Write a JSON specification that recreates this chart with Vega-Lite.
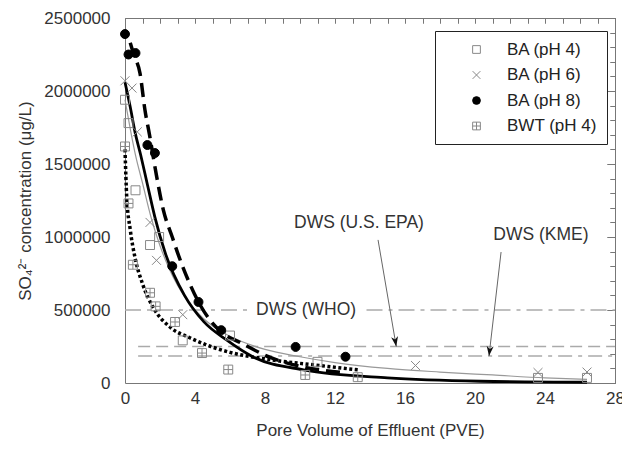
{
  "$schema": "https://vega.github.io/schema/vega-lite/v6.json",
  "width": 490,
  "height": 365,
  "autosize": "none",
  "padding": {"left": 125, "top": 18, "right": 7, "bottom": 67},
  "background": "white",
  "config": {
    "view": {"stroke": "#777", "strokeWidth": 1},
    "font": "Liberation Sans",
    "axis": {"grid": false, "domain": false, "labelFont": "Liberation Sans", "labelFontSize": 17, "labelColor": "#333", "titleFont": "Liberation Sans", "titleFontSize": 17, "titleFontWeight": "normal", "titleColor": "#333", "tickColor": "#777", "tickWidth": 1}
  },
  "datasets": {
    "pts": [
      {"series": "BA (pH 4)", "pve": 0, "conc": 1940000},
      {"series": "BA (pH 4)", "pve": 0.2, "conc": 1780000},
      {"series": "BA (pH 4)", "pve": 0.6, "conc": 1320000},
      {"series": "BA (pH 4)", "pve": 1.43, "conc": 945000},
      {"series": "BA (pH 4)", "pve": 1.95, "conc": 1000000},
      {"series": "BA (pH 4)", "pve": 3.3, "conc": 292000},
      {"series": "BA (pH 4)", "pve": 6.0, "conc": 325000},
      {"series": "BA (pH 4)", "pve": 11.0, "conc": 145000},
      {"series": "BA (pH 4)", "pve": 23.6, "conc": 35000},
      {"series": "BA (pH 4)", "pve": 26.4, "conc": 35000},
      {"series": "BA (pH 6)", "pve": 0, "conc": 2070000},
      {"series": "BA (pH 6)", "pve": 0.4, "conc": 2020000},
      {"series": "BA (pH 6)", "pve": 0.7, "conc": 1720000},
      {"series": "BA (pH 6)", "pve": 1.43, "conc": 1100000},
      {"series": "BA (pH 6)", "pve": 1.8, "conc": 840000},
      {"series": "BA (pH 6)", "pve": 3.3, "conc": 468000},
      {"series": "BA (pH 6)", "pve": 16.6, "conc": 120000},
      {"series": "BA (pH 6)", "pve": 23.6, "conc": 72000},
      {"series": "BA (pH 6)", "pve": 26.4, "conc": 75000},
      {"series": "BA (pH 8)", "pve": 0, "conc": 2390000},
      {"series": "BA (pH 8)", "pve": 0.2, "conc": 2250000},
      {"series": "BA (pH 8)", "pve": 0.6, "conc": 2260000},
      {"series": "BA (pH 8)", "pve": 1.28, "conc": 1630000},
      {"series": "BA (pH 8)", "pve": 1.71, "conc": 1575000},
      {"series": "BA (pH 8)", "pve": 2.7, "conc": 800000},
      {"series": "BA (pH 8)", "pve": 4.2, "conc": 555000},
      {"series": "BA (pH 8)", "pve": 5.5, "conc": 362000},
      {"series": "BA (pH 8)", "pve": 9.75, "conc": 247000},
      {"series": "BA (pH 8)", "pve": 12.6, "conc": 180000},
      {"series": "BWT (pH 4)", "pve": 0, "conc": 1620000},
      {"series": "BWT (pH 4)", "pve": 0.2, "conc": 1230000},
      {"series": "BWT (pH 4)", "pve": 0.45, "conc": 810000},
      {"series": "BWT (pH 4)", "pve": 1.43, "conc": 618000},
      {"series": "BWT (pH 4)", "pve": 1.75, "conc": 525000},
      {"series": "BWT (pH 4)", "pve": 2.86, "conc": 418000},
      {"series": "BWT (pH 4)", "pve": 4.4, "conc": 205000},
      {"series": "BWT (pH 4)", "pve": 5.9, "conc": 92000},
      {"series": "BWT (pH 4)", "pve": 10.3, "conc": 55000},
      {"series": "BWT (pH 4)", "pve": 13.3, "conc": 40000}
    ],
    "curves": [
      {"c": "c4", "pve": 0, "conc": 1940000},
      {"c": "c4", "pve": 0.3, "conc": 1740000},
      {"c": "c4", "pve": 0.6, "conc": 1560000},
      {"c": "c4", "pve": 1.0, "conc": 1370000},
      {"c": "c4", "pve": 1.5, "conc": 1130000},
      {"c": "c4", "pve": 2.0, "conc": 940000},
      {"c": "c4", "pve": 2.5, "conc": 790000},
      {"c": "c4", "pve": 3.0, "conc": 670000},
      {"c": "c4", "pve": 4.0, "conc": 500000},
      {"c": "c4", "pve": 5.0, "conc": 390000},
      {"c": "c4", "pve": 6.0, "conc": 320000},
      {"c": "c4", "pve": 8.0, "conc": 230000},
      {"c": "c4", "pve": 10.0, "conc": 180000},
      {"c": "c4", "pve": 12.0, "conc": 140000},
      {"c": "c4", "pve": 15.0, "conc": 100000},
      {"c": "c4", "pve": 18.0, "conc": 75000},
      {"c": "c4", "pve": 21.0, "conc": 55000},
      {"c": "c4", "pve": 24.0, "conc": 35000},
      {"c": "c4", "pve": 26.4, "conc": 25000},
      {"c": "c6", "pve": 0, "conc": 2060000},
      {"c": "c6", "pve": 0.3, "conc": 1890000},
      {"c": "c6", "pve": 0.57, "conc": 1720000},
      {"c": "c6", "pve": 0.9, "conc": 1560000},
      {"c": "c6", "pve": 1.26, "conc": 1370000},
      {"c": "c6", "pve": 1.7, "conc": 1140000},
      {"c": "c6", "pve": 2.3, "conc": 890000},
      {"c": "c6", "pve": 3.4, "conc": 600000},
      {"c": "c6", "pve": 4.5, "conc": 420000},
      {"c": "c6", "pve": 5.8, "conc": 295000},
      {"c": "c6", "pve": 7.3, "conc": 180000},
      {"c": "c6", "pve": 10.2, "conc": 90000},
      {"c": "c6", "pve": 15.0, "conc": 35000},
      {"c": "c6", "pve": 20.3, "conc": 12000},
      {"c": "c6", "pve": 26.4, "conc": 5000},
      {"c": "c8", "pve": 0.3, "conc": 2330000},
      {"c": "c8", "pve": 0.5, "conc": 2250000},
      {"c": "c8", "pve": 0.86, "conc": 2120000},
      {"c": "c8", "pve": 1.14, "conc": 1870000},
      {"c": "c8", "pve": 1.4, "conc": 1700000},
      {"c": "c8", "pve": 1.8, "conc": 1420000},
      {"c": "c8", "pve": 2.2, "conc": 1180000},
      {"c": "c8", "pve": 2.7, "conc": 1000000},
      {"c": "c8", "pve": 3.1, "conc": 860000},
      {"c": "c8", "pve": 3.7, "conc": 680000},
      {"c": "c8", "pve": 4.2, "conc": 555000},
      {"c": "c8", "pve": 4.8, "conc": 440000},
      {"c": "c8", "pve": 5.4, "conc": 360000},
      {"c": "c8", "pve": 6.7, "conc": 270000},
      {"c": "c8", "pve": 8.3, "conc": 175000},
      {"c": "c8", "pve": 10.0, "conc": 115000},
      {"c": "c8", "pve": 12.6, "conc": 70000},
      {"c": "cb", "pve": 0, "conc": 1600000},
      {"c": "cb", "pve": 0.1, "conc": 1270000},
      {"c": "cb", "pve": 0.3, "conc": 1050000},
      {"c": "cb", "pve": 0.57, "conc": 860000},
      {"c": "cb", "pve": 1.0, "conc": 680000},
      {"c": "cb", "pve": 1.6, "conc": 520000},
      {"c": "cb", "pve": 2.6, "conc": 380000},
      {"c": "cb", "pve": 3.7, "conc": 310000},
      {"c": "cb", "pve": 4.9, "conc": 250000},
      {"c": "cb", "pve": 6.0, "conc": 210000},
      {"c": "cb", "pve": 8.3, "conc": 160000},
      {"c": "cb", "pve": 11.1, "conc": 120000},
      {"c": "cb", "pve": 13.3, "conc": 90000}
    ],
    "refs": [
      {"std": "WHO", "x": 0, "x2": 7.0, "y": 500000},
      {"std": "WHO", "x": 13.8, "x2": 28, "y": 500000},
      {"std": "EPA", "x": 0.75, "x2": 28, "y": 250000},
      {"std": "KME", "x": 0.75, "x2": 28, "y": 185000}
    ],
    "notes": [
      {"label": "DWS (WHO)", "x": 10.35, "y": 500000},
      {"label": "DWS (U.S. EPA)", "x": 13.37, "y": 1096000},
      {"label": "DWS (KME)", "x": 23.77, "y": 1014000}
    ],
    "arrows": [
      {"std": "EPA", "x": 14.46, "y": 980000, "x2": 15.5, "y2": 250000},
      {"std": "KME", "x": 21.49, "y": 897000, "x2": 20.8, "y2": 185000}
    ]
  },
  "resolve": {"axis": {"x": "independent", "y": "independent"}},
  "layer": [
    {
      "data": {"name": "refs"},
      "mark": {"type": "rule", "color": "#aaa", "strokeWidth": 1.5},
      "encoding": {
        "x": {"field": "x", "type": "quantitative", "scale": {"domain": [0, 28], "nice": false, "zero": false},
          "axis": {"values": [0, 4, 8, 12, 16, 20, 24, 28], "ticks": false, "labelPadding": 7, "labelFlush": false, "title": "Pore Volume of Effluent (PVE)", "titlePadding": 16}},
        "x2": {"field": "x2"},
        "y": {"field": "y", "type": "quantitative", "scale": {"domain": [0, 2500000], "nice": false, "zero": false},
          "axis": {"values": [0, 500000, 1000000, 1500000, 2000000, 2500000], "format": "d", "ticks": false, "labelPadding": 15, "labelFlush": false, "title": "SO₄²⁻ concentration (μg/L)", "titlePadding": 9}},
        "strokeDash": {"field": "std", "type": "nominal", "scale": {"domain": ["WHO", "EPA", "KME"], "range": [[16, 6, 4, 6], [12, 6], [14, 6, 4, 6]]}, "legend": null}
      }
    },
    {
      "data": {"name": "curves"},
      "transform": [{"filter": "datum.c === 'c4'"}],
      "mark": {"type": "line", "color": "#999", "strokeWidth": 1.2, "interpolate": "monotone"},
      "encoding": {
        "x": {"field": "pve", "type": "quantitative", "scale": {"domain": [0, 28], "nice": false, "zero": false},
          "axis": {"values": [0,1,2,3,4,5,6,7,8,9,10,11,12,13,14,15,16,17,18,19,20,21,22,23,24,25,26,27,28], "labels": false, "tickSize": -5, "title": null}},
        "y": {"field": "conc", "type": "quantitative", "scale": {"domain": [0, 2500000], "nice": false, "zero": false},
          "axis": {"values": [0,100000,200000,300000,400000,500000,600000,700000,800000,900000,1000000,1100000,1200000,1300000,1400000,1500000,1600000,1700000,1800000,1900000,2000000,2100000,2200000,2300000,2400000,2500000], "labels": false, "tickSize": -5, "title": null}}
      }
    },
    {
      "data": {"name": "curves"},
      "transform": [{"filter": "datum.c === 'c6'"}],
      "mark": {"type": "line", "color": "#000", "strokeWidth": 2.8, "interpolate": "monotone"},
      "encoding": {
        "x": {"field": "pve", "type": "quantitative", "scale": {"domain": [0, 28], "nice": false, "zero": false},
          "axis": {"orient": "top", "values": [0,1,2,3,4,5,6,7,8,9,10,11,12,13,14,15,16,17,18,19,20,21,22,23,24,25,26,27,28], "labels": false, "tickSize": -5, "title": null}},
        "y": {"field": "conc", "type": "quantitative", "scale": {"domain": [0, 2500000], "nice": false, "zero": false},
          "axis": {"orient": "right", "values": [0,100000,200000,300000,400000,500000,600000,700000,800000,900000,1000000,1100000,1200000,1300000,1400000,1500000,1600000,1700000,1800000,1900000,2000000,2100000,2200000,2300000,2400000,2500000], "labels": false, "tickSize": -5, "title": null}}
      }
    },
    {
      "data": {"name": "curves"},
      "transform": [{"filter": "datum.c === 'c8'"}],
      "mark": {"type": "line", "color": "#000", "strokeWidth": 3.5, "strokeDash": [14, 7], "interpolate": "monotone"},
      "encoding": {
        "x": {"field": "pve", "type": "quantitative", "scale": {"domain": [0, 28], "nice": false, "zero": false}, "axis": null},
        "y": {"field": "conc", "type": "quantitative", "scale": {"domain": [0, 2500000], "nice": false, "zero": false},
          "axis": {"values": [0, 500000, 1000000, 1500000, 2000000, 2500000], "labels": false, "tickSize": -8, "title": null}}
      }
    },
    {
      "data": {"name": "curves"},
      "transform": [{"filter": "datum.c === 'cb'"}],
      "mark": {"type": "line", "color": "#000", "strokeWidth": 3.5, "strokeDash": [3, 2.5], "interpolate": "monotone"},
      "encoding": {
        "x": {"field": "pve", "type": "quantitative", "scale": {"domain": [0, 28], "nice": false, "zero": false}, "axis": null},
        "y": {"field": "conc", "type": "quantitative", "scale": {"domain": [0, 2500000], "nice": false, "zero": false},
          "axis": {"orient": "right", "values": [0, 500000, 1000000, 1500000, 2000000, 2500000], "labels": false, "tickSize": -8, "title": null}}
      }
    },
    {
      "data": {"name": "pts"},
      "mark": {"type": "point", "filled": true, "size": 80, "strokeWidth": 1, "opacity": 1},
      "encoding": {
        "x": {"field": "pve", "type": "quantitative", "scale": {"domain": [0, 28], "nice": false, "zero": false}, "axis": null},
        "y": {"field": "conc", "type": "quantitative", "scale": {"domain": [0, 2500000], "nice": false, "zero": false}, "axis": null},
        "shape": {"field": "series", "type": "nominal",
          "scale": {"domain": ["BA (pH 4)", "BA (pH 6)", "BA (pH 8)", "BWT (pH 4)"], "range": ["square", "M-1,-1L1,1M-1,1L1,-1", "circle", "M-1,-1H1V1H-1Z M0,-1V1 M-1,0H1"]},
          "legend": {"title": null, "orient": "none", "legendX": 310, "legendY": 13, "padding": 10, "strokeColor": "#222", "fillColor": "white", "labelFontSize": 17, "labelFont": "Liberation Sans", "labelColor": "#222", "rowPadding": 7.5, "symbolOffset": 23, "labelOffset": 22, "symbolSize": 60, "symbolStrokeWidth": 1}},
        "fill": {"field": "series", "type": "nominal",
          "scale": {"domain": ["BA (pH 4)", "BA (pH 6)", "BA (pH 8)", "BWT (pH 4)"], "range": ["transparent", "transparent", "#000", "transparent"]},
          "legend": {"title": null, "orient": "none", "legendX": 310, "legendY": 13, "padding": 10, "strokeColor": "#222", "fillColor": "white", "labelFontSize": 17, "labelFont": "Liberation Sans", "labelColor": "#222", "rowPadding": 7.5, "symbolOffset": 23, "labelOffset": 22, "symbolSize": 60, "symbolStrokeWidth": 1}},
        "stroke": {"field": "series", "type": "nominal",
          "scale": {"domain": ["BA (pH 4)", "BA (pH 6)", "BA (pH 8)", "BWT (pH 4)"], "range": ["#888", "#888", "#000", "#888"]},
          "legend": {"title": null, "orient": "none", "legendX": 310, "legendY": 13, "padding": 10, "strokeColor": "#222", "fillColor": "white", "labelFontSize": 17, "labelFont": "Liberation Sans", "labelColor": "#222", "rowPadding": 7.5, "symbolOffset": 23, "labelOffset": 22, "symbolSize": 60, "symbolStrokeWidth": 1}}
      }
    },
    {
      "data": {"name": "notes"},
      "mark": {"type": "text", "font": "Liberation Sans", "fontSize": 17.5, "color": "#333", "align": "center", "baseline": "middle"},
      "encoding": {
        "x": {"field": "x", "type": "quantitative", "scale": {"domain": [0, 28], "nice": false, "zero": false}, "axis": null},
        "y": {"field": "y", "type": "quantitative", "scale": {"domain": [0, 2500000], "nice": false, "zero": false}, "axis": null},
        "text": {"field": "label"}
      }
    },
    {
      "data": {"name": "arrows"},
      "mark": {"type": "rule", "color": "#666", "strokeWidth": 1},
      "encoding": {
        "x": {"field": "x", "type": "quantitative", "scale": {"domain": [0, 28], "nice": false, "zero": false}, "axis": null},
        "y": {"field": "y", "type": "quantitative", "scale": {"domain": [0, 2500000], "nice": false, "zero": false}, "axis": null},
        "x2": {"field": "x2"},
        "y2": {"field": "y2"}
      }
    },
    {
      "data": {"name": "arrows"},
      "transform": [{"filter": "datum.std === 'EPA'"}],
      "mark": {"type": "point", "shape": "M0,0L-0.7,-2L0,-1.4L0.7,-2Z", "filled": true, "color": "#111", "size": 100, "angle": 350.3, "opacity": 1},
      "encoding": {
        "x": {"field": "x2", "type": "quantitative", "scale": {"domain": [0, 28], "nice": false, "zero": false}, "axis": null},
        "y": {"field": "y2", "type": "quantitative", "scale": {"domain": [0, 2500000], "nice": false, "zero": false}, "axis": null}
      }
    },
    {
      "data": {"name": "arrows"},
      "transform": [{"filter": "datum.std === 'KME'"}],
      "mark": {"type": "point", "shape": "M0,0L-0.7,-2L0,-1.4L0.7,-2Z", "filled": true, "color": "#111", "size": 100, "angle": 6.6, "opacity": 1},
      "encoding": {
        "x": {"field": "x2", "type": "quantitative", "scale": {"domain": [0, 28], "nice": false, "zero": false}, "axis": null},
        "y": {"field": "y2", "type": "quantitative", "scale": {"domain": [0, 2500000], "nice": false, "zero": false}, "axis": null}
      }
    }
  ]
}
